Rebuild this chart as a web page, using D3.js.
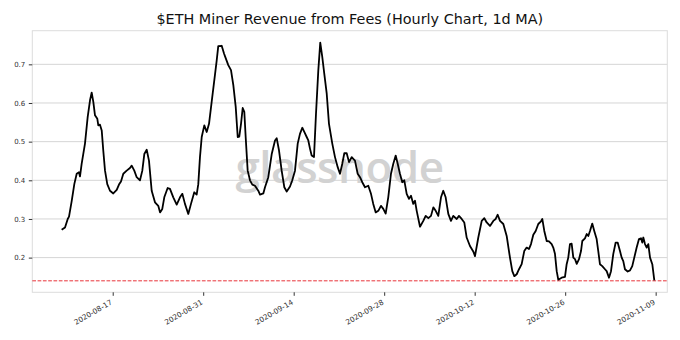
<!DOCTYPE html>
<html><head><meta charset="utf-8">
<script src="https://cdn.jsdelivr.net/npm/d3@7"></script>
<style>
html,body{margin:0;padding:0;background:#fff;}
svg{display:block;}
</style></head>
<body><svg id="chart" width="680" height="340"></svg>
<script>
const title = "$ETH Miner Revenue from Fees (Hourly Chart, 1d MA)";
const startDate = "2020-08-09T00:00:00Z";
const dayOffset = [0.1,0.62,1.04,1.24,1.66,2.06,2.43,2.78,2.94,3.20,
3.71,4.13,4.49,4.75,5.0,5.26,5.62,5.77,6.03,6.30,
6.54,6.81,7.16,7.58,8.09,8.62,8.97,9.28,9.64,10.16,
10.67,10.94,11.34,11.71,12.22,12.58,12.89,13.26,13.61,14.03,
14.54,15.05,15.32,15.67,15.98,16.50,16.86,17.37,17.90,18.41,
18.77,19.18,19.69,20.11,20.62,20.99,21.24,21.50,21.77,22.17,
22.54,22.90,23.31,23.72,24.09,24.33,24.86,25.22,25.48,25.88,
26.30,26.66,27.03,27.34,27.58,27.85,28.11,28.36,28.57,28.88,
29.24,29.60,30.01,30.52,30.79,31.30,31.56,32.07,32.60,33.11,
33.37,33.73,34.14,34.55,34.92,35.43,35.78,36.20,36.62,36.97,
37.33,37.64,38.01,38.26,38.52,38.78,39.14,39.45,39.81,40.11,
40.42,40.73,41.11,41.46,41.97,42.39,42.81,43.16,43.52,43.83,
44.20,44.56,44.97,45.48,45.90,46.26,46.61,47.03,47.54,47.96,
48.31,48.69,49.09,49.50,49.86,50.23,50.63,51.05,51.41,51.78,
52.09,52.44,52.80,53.11,53.48,53.84,54.15,54.50,54.77,55.03,
55.54,56.05,56.42,56.83,57.24,57.60,57.97,58.37,58.79,59.14,
59.51,59.92,60.33,60.69,61.22,61.57,61.99,62.39,62.76,63.27,
63.78,64.05,64.56,65.09,65.49,65.86,66.37,66.88,67.25,67.56,
67.92,68.43,68.95,69.46,69.82,70.13,70.50,70.86,71.27,71.67,
72.04,72.40,72.71,73.07,73.44,73.84,74.26,74.46,74.77,75.14,
75.50,75.91,76.16,76.42,76.69,76.93,77.45,77.97,78.23,78.48,
78.74,79.0,79.26,79.52,79.79,80.14,80.45,80.65,81.06,81.33,
81.58,81.84,82.19,82.50,82.87,83.12,83.38,83.74,84.16,84.42,
84.78,85.09,85.44,85.81,86.12,86.48,86.74,86.99,87.25,87.67,
88.03,88.38,88.69,89.06,89.42,89.73,89.93,90.09,90.35,90.61,
90.86,91.13,91.48,91.79];
const feeRevenue = [0.272,0.278,0.300,0.306,0.347,0.390,0.417,0.421,0.410,0.443,
0.495,0.564,0.607,0.627,0.603,0.568,0.559,0.542,0.544,0.529,
0.477,0.425,0.390,0.373,0.366,0.375,0.389,0.397,0.417,0.425,
0.432,0.438,0.425,0.408,0.400,0.425,0.468,0.479,0.451,0.373,
0.343,0.334,0.317,0.326,0.356,0.380,0.378,0.356,0.337,0.356,
0.365,0.339,0.313,0.339,0.369,0.363,0.390,0.460,0.512,0.542,
0.525,0.546,0.603,0.659,0.710,0.747,0.748,0.728,0.716,0.698,
0.685,0.646,0.590,0.512,0.513,0.546,0.587,0.577,0.512,0.425,
0.400,0.389,0.386,0.373,0.363,0.366,0.382,0.408,0.468,0.503,
0.509,0.477,0.425,0.382,0.371,0.384,0.400,0.425,0.495,0.520,
0.536,0.525,0.512,0.503,0.482,0.464,0.460,0.572,0.685,0.756,
0.719,0.676,0.624,0.546,0.495,0.460,0.434,0.417,0.443,0.470,
0.470,0.447,0.460,0.451,0.417,0.408,0.395,0.382,0.386,0.365,
0.339,0.317,0.321,0.334,0.326,0.314,0.356,0.417,0.443,0.464,
0.443,0.417,0.395,0.400,0.365,0.352,0.360,0.339,0.347,0.321,
0.280,0.295,0.308,0.302,0.308,0.330,0.321,0.308,0.356,0.373,
0.356,0.313,0.295,0.308,0.300,0.308,0.300,0.291,0.252,0.230,
0.216,0.204,0.252,0.295,0.302,0.291,0.282,0.295,0.300,0.311,
0.295,0.287,0.256,0.200,0.165,0.152,0.157,0.170,0.183,0.217,
0.226,0.222,0.235,0.259,0.269,0.287,0.294,0.300,0.269,0.243,
0.242,0.235,0.226,0.210,0.165,0.143,0.148,0.150,0.183,0.200,
0.235,0.236,0.200,0.196,0.184,0.196,0.217,0.243,0.250,0.261,
0.256,0.269,0.288,0.269,0.248,0.217,0.183,0.178,0.170,0.165,
0.148,0.165,0.209,0.239,0.239,0.217,0.200,0.191,0.170,0.164,
0.167,0.178,0.200,0.226,0.248,0.250,0.239,0.252,0.235,0.226,
0.235,0.200,0.183,0.141];
const referenceLevel = 0.14;
const xTickLabels = ["2020-08-17","2020-08-31","2020-09-14","2020-09-28","2020-10-12","2020-10-26","2020-11-09"];
const yTickValues = [0.2,0.3,0.4,0.5,0.6,0.7];
const watermark = "glassnode";

const svg = d3.select("#chart");
const L = 32.3, R = 667.3, T = 30.7, B = 292.3;
const t0 = new Date(startDate);
const dayMs = 864e5;
const data = dayOffset.map((d, i) => ({ date: new Date(t0.getTime() + d * dayMs), v: feeRevenue[i] }));

const x = d3.scaleUtc()
  .domain([new Date(t0.getTime() - 4.44 * dayMs), new Date(t0.getTime() + 93.8 * dayMs)])
  .range([L, R]);
const y = d3.scaleLinear().domain([0.1103, 0.787]).range([B, T]);

// gridlines
svg.append("g").selectAll("line").data(yTickValues).join("line")
  .attr("x1", L).attr("x2", R)
  .attr("y1", d => y(d)).attr("y2", d => y(d))
  .attr("stroke", "#d5d5d5").attr("stroke-width", 1);

// watermark
svg.append("text").attr("x", 339.5).attr("y", 182.5)
  .attr("text-anchor", "middle")
  .attr("font-family", "'Open Sans', Lato, sans-serif")
  .attr("font-size", 44).attr("font-weight", 600)
  .attr("letter-spacing", -0.5)
  .attr("fill", "#d2d2d2")
  .text(watermark);

// frame
svg.append("rect").attr("x", L).attr("y", T).attr("width", R - L).attr("height", B - T)
  .attr("fill", "none").attr("stroke", "#dcdcdc").attr("stroke-width", 1);

// reference line
svg.append("line").attr("x1", L).attr("x2", R)
  .attr("y1", y(referenceLevel)).attr("y2", y(referenceLevel))
  .attr("stroke", "#e8333a").attr("stroke-width", 1)
  .attr("stroke-dasharray", "3.7,1.6");

// series line
const line = d3.line().x(d => x(d.date)).y(d => y(d.v));
svg.append("path").datum(data).attr("d", line)
  .attr("fill", "none").attr("stroke", "#000").attr("stroke-width", 1.8)
  .attr("stroke-linejoin", "round");

// y axis
const yAxis = svg.append("g").attr("transform", `translate(${L},0)`)
  .call(d3.axisLeft(y).tickValues(yTickValues).tickFormat(d3.format(".1f")).tickSize(3.5).tickPadding(3.5));
yAxis.select(".domain").remove();
yAxis.selectAll("line").attr("stroke", "#333");
yAxis.selectAll("text").attr("font-family", "DejaVu Sans, sans-serif").attr("font-size", 7).attr("fill", "#333");

// x axis
const xDates = xTickLabels.map(s => new Date(s + "T00:00:00Z"));
const xAxis = svg.append("g").attr("transform", `translate(0,${B})`)
  .call(d3.axisBottom(x).tickValues(xDates).tickFormat(d3.utcFormat("%Y-%m-%d")).tickSize(3.5));
xAxis.select(".domain").remove();
xAxis.selectAll("line").attr("stroke", "#333");
xAxis.selectAll("text")
  .attr("font-family", "DejaVu Sans, sans-serif").attr("font-size", 7.3).attr("fill", "#333")
  .attr("text-anchor", "end").attr("y", 0).attr("dy", 0)
  .attr("transform", "translate(-0.5,11.5) rotate(-30)");

// title
svg.append("text").attr("x", (L + R) / 2).attr("y", 24)
  .attr("text-anchor", "middle")
  .attr("font-family", "DejaVu Sans, sans-serif").attr("font-size", 14.4).attr("fill", "#111")
  .text(title);
</script></body></html>
